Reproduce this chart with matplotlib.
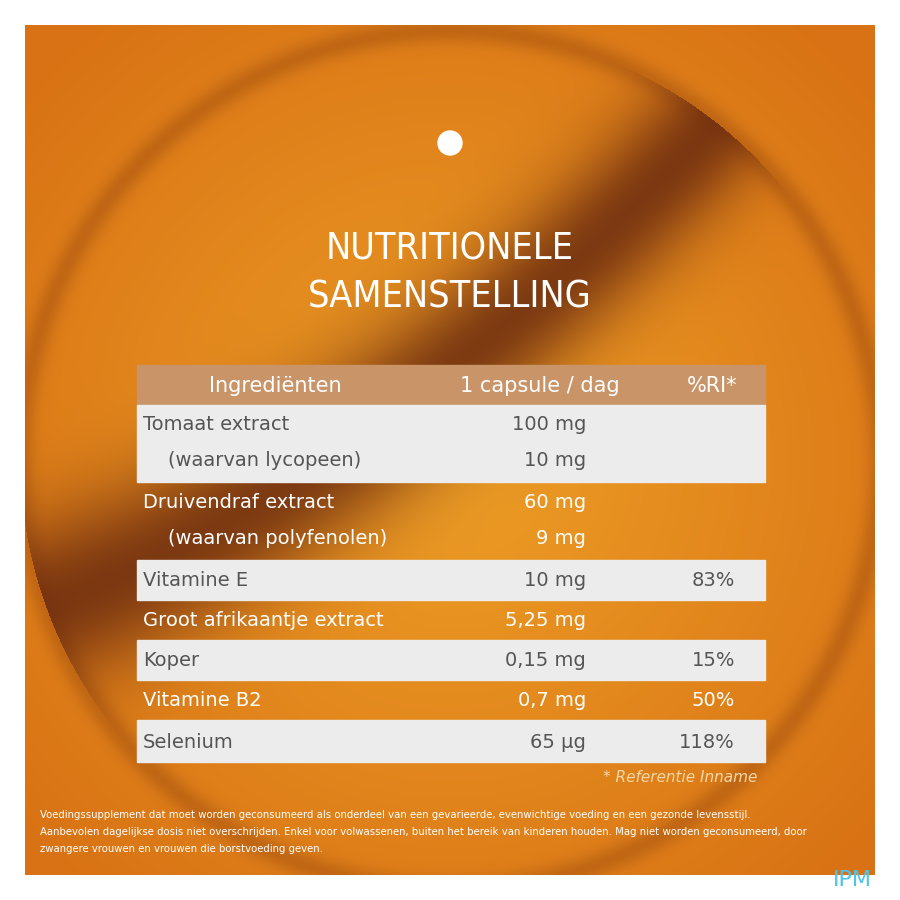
import matplotlib.pyplot as plt
import matplotlib.patches as mpatches
import numpy as np

title_lines = ["NUTRITIONELE", "SAMENSTELLING"]
headers = ["Ingrediënten", "1 capsule / dag", "%RI*"]
names = ["Tomaat extract", "    (waarvan lycopeen)", "Druivendraf extract", "    (waarvan polyfenolen)",
         "Vitamine E", "Groot afrikaantje extract", "Koper", "Vitamine B2", "Selenium"]
amounts = ["100 mg", "10 mg", "60 mg", "9 mg", "10 mg", "5,25 mg", "0,15 mg", "0,7 mg", "65 µg"]
ri = ["", "", "", "", "83%", "", "15%", "50%", "118%"]
text_y = [425, 460, 502, 538, 580, 620, 661, 701, 742]
# row bands: (top, bottom, shaded)
bands = [(405, 482, True), (482, 560, False), (560, 600, True), (600, 640, False),
         (640, 680, True), (680, 720, False), (720, 762, True)]
footer = ["Voedingssupplement dat moet worden geconsumeerd als onderdeel van een gevarieerde, evenwichtige voeding en een gezonde levensstijl.",
          "Aanbevolen dagelijkse dosis niet overschrijden. Enkel voor volwassenen, buiten het bereik van kinderen houden. Mag niet worden geconsumeerd, door",
          "zwangere vrouwen en vrouwen die borstvoeding geven."]

fig = plt.figure(figsize=(9, 9), dpi=100)
ax = fig.add_axes([0, 0, 1, 1])
ax.set_xlim(0, 900)
ax.set_ylim(900, 0)
ax.axis("off")

# background panel with radial-ish gradient
yy, xx = np.mgrid[25:875, 25:875]
r = np.hypot(xx - 450, yy - 460) / 430
img = np.zeros(xx.shape + (3,))
c_in = np.array([0.93, 0.62, 0.15])
c_out = np.array([0.85, 0.45, 0.08])
t = np.clip(r, 0, 1.3)[..., None] / 1.3
img = c_in * (1 - t) + c_out * t
ring = np.exp(-((r - 1.0) / 0.03) ** 2)[..., None]
img = img * (1 - 0.35 * ring) + np.array([0.55, 0.25, 0.05]) * 0.35 * ring
# dark diagonal swoosh
d = (xx - 450) * 0.62 + (yy - 330) * 0.78
d2 = d + 0.0004 * (xx - 450) ** 2
band = np.exp(-((d2 - 30) / 70) ** 2)[..., None]
inside = (r < 1.0)[..., None]
dark = np.array([0.42, 0.17, 0.06])
img = img * (1 - 0.85 * band * inside) + dark * 0.85 * band * inside
ax.imshow(img, extent=(25, 875, 875, 25), zorder=0)

ax.add_patch(mpatches.Circle((450, 143), 12, color="white", zorder=2))

fam = ["DejaVu Sans"]
for i, line in enumerate(title_lines):
    ax.text(450, 250 + i * 48, line, color="white", fontsize=27, ha="center", va="center",
            family=fam, fontstretch="condensed")

ax.add_patch(mpatches.Rectangle((137, 365), 628, 40, color="#c99467", zorder=2))
for top, bot, shaded in bands:
    if shaded:
        ax.add_patch(mpatches.Rectangle((137, top), 628, bot - top, color="#ececec", zorder=2))

ax.text(275, 386, headers[0], color="white", fontsize=15, ha="center", va="center", zorder=3)
ax.text(540, 386, headers[1], color="white", fontsize=15, ha="center", va="center", zorder=3)
ax.text(712, 386, headers[2], color="white", fontsize=15, ha="center", va="center", zorder=3)

for i, (n, a, p) in enumerate(zip(names, amounts, ri)):
    y = text_y[i]
    shaded = any(b[2] and b[0] <= y < b[1] for b in bands)
    col = "#555555" if shaded else "white"
    ax.text(143, y, n, color=col, fontsize=14, ha="left", va="center", zorder=3)
    ax.text(586, y, a, color=col, fontsize=14, ha="right", va="center", zorder=3)
    ax.text(735, y, p, color=col, fontsize=14, ha="right", va="center", zorder=3)

ax.text(757, 778, "* Referentie Inname", color="#f6d7a8", fontsize=11, style="italic",
        ha="right", va="center", zorder=3)

for i, line in enumerate(footer):
    ax.text(40, 815 + i * 17, line, color="white", fontsize=7.3, ha="left", va="center", zorder=3)

ax.text(872, 880, "IPM", color="#4fc3e8", fontsize=16, ha="right", va="center", zorder=3)

fig.savefig("out.png", dpi=100)
